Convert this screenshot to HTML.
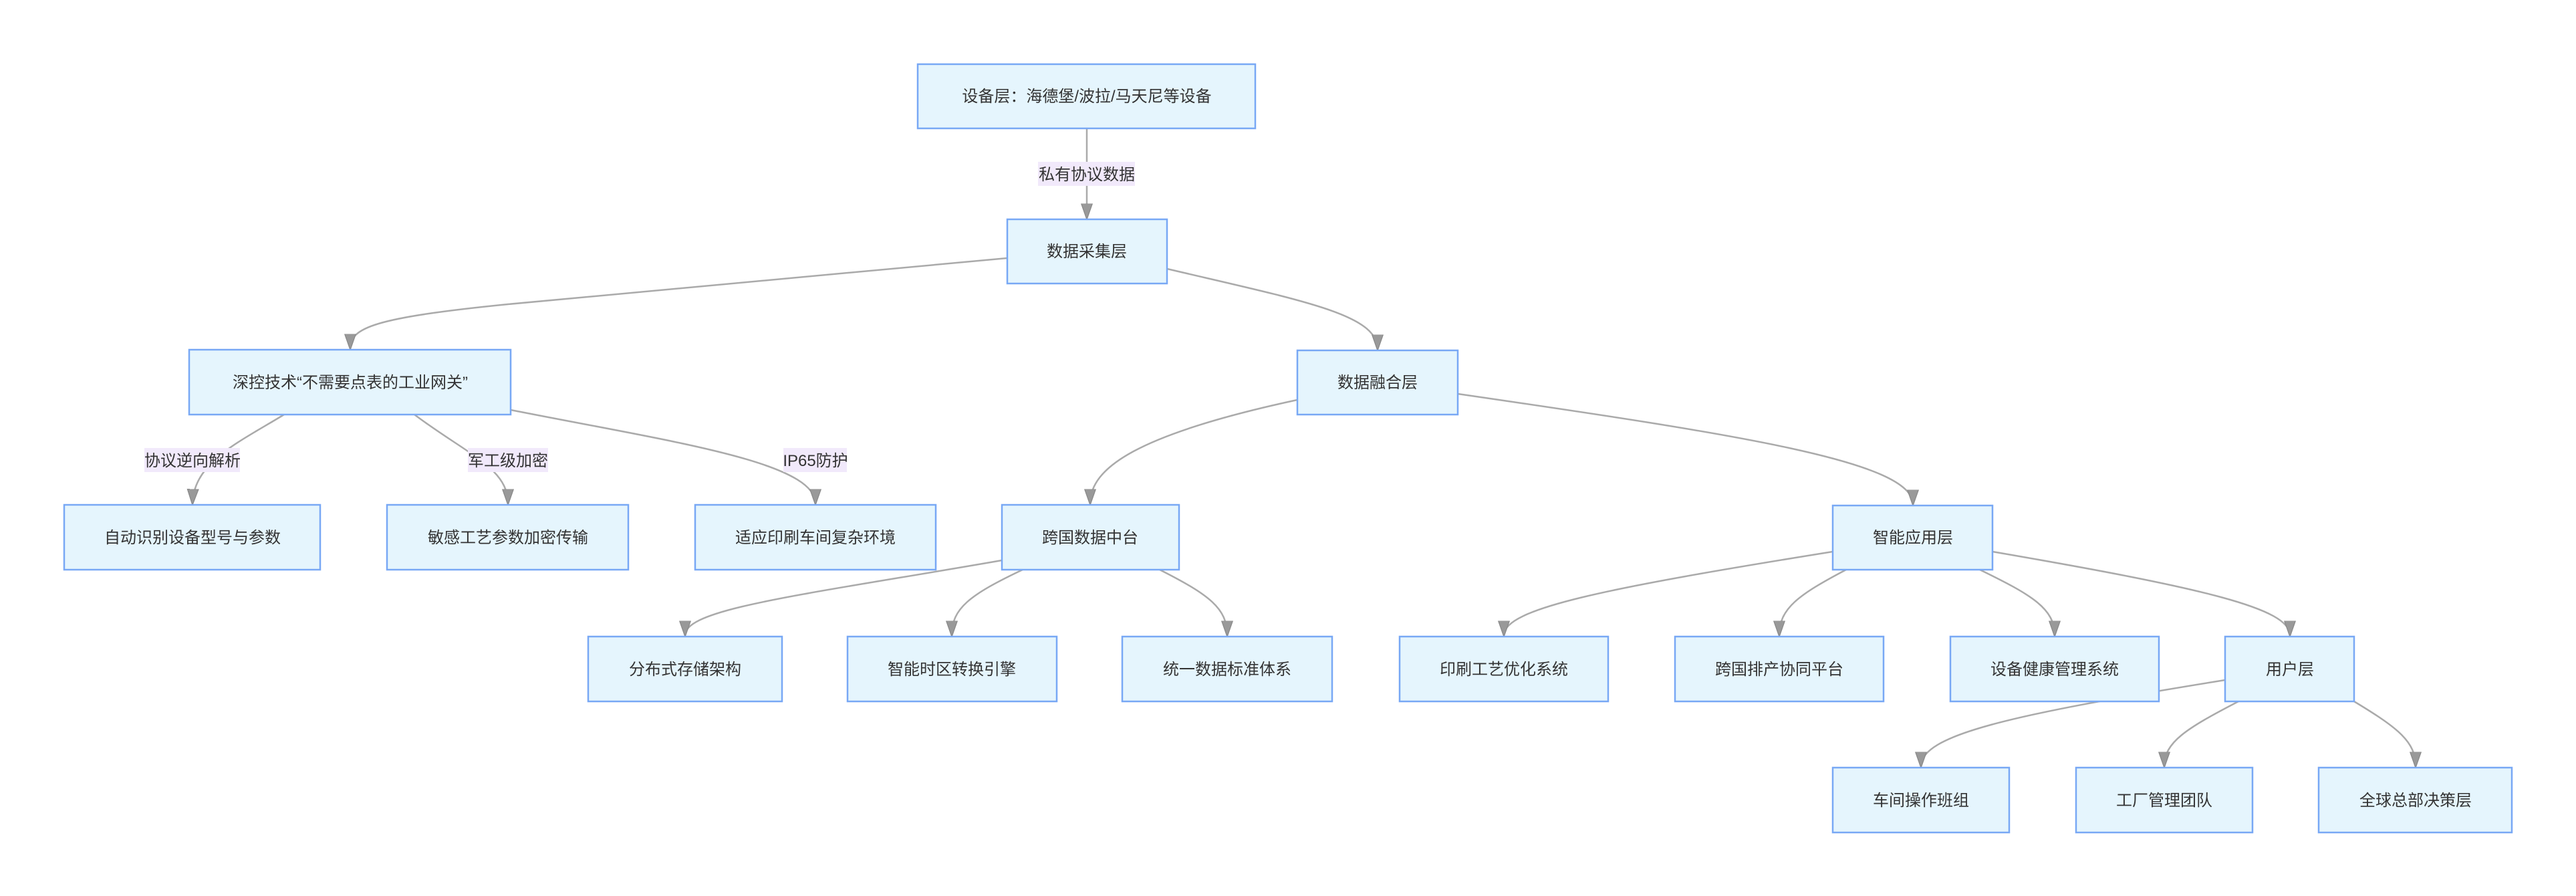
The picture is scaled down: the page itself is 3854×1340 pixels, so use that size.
<!DOCTYPE html>
<html><head><meta charset="utf-8"><style>
html,body{margin:0;padding:0;background:#fff;}
svg{display:block;}
text{font-family:"Liberation Sans","Noto Sans CJK SC",sans-serif;font-size:24px;fill:#333;}
.n{fill:#e5f5fd;stroke:#78a8f5;stroke-width:2.5;}
.e{fill:none;stroke:#aaaaaa;stroke-width:2.5;}
.l{fill:#f1e9fb;}
</style></head><body>
<svg width="3854" height="1340" viewBox="0 0 3854 1340" xmlns="http://www.w3.org/2000/svg">
<defs><marker id="a" viewBox="0 0 10 10" refX="9" refY="5" markerWidth="10" markerHeight="10" markerUnits="userSpaceOnUse" orient="auto"><path d="M0,0 L10,5 L0,10 z" fill="#999"/></marker>
<marker id="b" viewBox="0 0 10 10" refX="9" refY="5" markerWidth="24" markerHeight="24" markerUnits="userSpaceOnUse" orient="auto"><path d="M0,1.5 L10,5 L0,8.5 z" fill="#999" stroke="#888" stroke-width="0.5"/></marker></defs>
<g marker-end="url(#b)">
<path class="e" d="M1626,192 L1626,326"/>
<path class="e" d="M1507,386 L760,455 C560,475 524,490 524,521"/>
<path class="e" d="M1746,402 C1950,450 2061,470 2061,522"/>
<path class="e" d="M425,620 C360,660 290,690 288,753"/>
<path class="e" d="M620,620 C700,680 760,700 760,753"/>
<path class="e" d="M764,613 C1000,660 1220,690 1220,753"/>
<path class="e" d="M1941,598 C1700,650 1631,700 1631,753"/>
<path class="e" d="M2181,589 C2600,650 2862,690 2862,754"/>
<path class="e" d="M1499,838 C1200,890 1025,910 1025,950"/>
<path class="e" d="M1530,852 C1450,890 1424,910 1424,950"/>
<path class="e" d="M1735,852 C1810,890 1836,910 1836,950"/>
<path class="e" d="M2742,825 C2400,880 2250,910 2250,950"/>
<path class="e" d="M2762,852 C2690,890 2662,910 2662,950"/>
<path class="e" d="M2962,852 C3040,890 3074,910 3074,950"/>
<path class="e" d="M2981,825 C3300,880 3426,910 3426,950"/>
<path class="e" d="M3329,1017 C3000,1070 2874,1100 2874,1146"/>
<path class="e" d="M3349,1049 C3270,1090 3238,1110 3238,1146"/>
<path class="e" d="M3522,1049 C3590,1090 3614,1110 3614,1146"/>
</g>
<rect class="l" x="1553" y="242" width="145" height="36"/><text x="1626" y="269" text-anchor="middle">私有协议数据</text>
<rect class="l" x="216" y="670" width="143" height="36"/><text x="288" y="697" text-anchor="middle">协议逆向解析</text>
<rect class="l" x="700" y="670" width="120" height="36"/><text x="760" y="697" text-anchor="middle">军工级加密</text>
<rect class="l" x="1172" y="670" width="95" height="36"/><text x="1220" y="697" text-anchor="middle">IP65防护</text>
<g text-anchor="middle">
<rect class="n" x="1373" y="96" width="505" height="96"/><text x="1626" y="152">设备层：海德堡/波拉/马天尼等设备</text>
<rect class="n" x="1507" y="328" width="239" height="96"/><text x="1626" y="384">数据采集层</text>
<rect class="n" x="283" y="523" width="481" height="97"/><text x="524" y="580">深控技术“不需要点表的工业网关”</text>
<rect class="n" x="1941" y="524" width="240" height="96"/><text x="2061" y="580">数据融合层</text>
<rect class="n" x="96" y="755" width="383" height="97"/><text x="288" y="812">自动识别设备型号与参数</text>
<rect class="n" x="579" y="755" width="361" height="97"/><text x="760" y="812">敏感工艺参数加密传输</text>
<rect class="n" x="1040" y="755" width="360" height="97"/><text x="1220" y="812">适应印刷车间复杂环境</text>
<rect class="n" x="1499" y="755" width="265" height="97"/><text x="1631" y="812">跨国数据中台</text>
<rect class="n" x="2742" y="756" width="239" height="96"/><text x="2862" y="812">智能应用层</text>
<rect class="n" x="880" y="952" width="290" height="97"/><text x="1025" y="1009">分布式存储架构</text>
<rect class="n" x="1268" y="952" width="313" height="97"/><text x="1424" y="1009">智能时区转换引擎</text>
<rect class="n" x="1679" y="952" width="314" height="97"/><text x="1836" y="1009">统一数据标准体系</text>
<rect class="n" x="2094" y="952" width="312" height="97"/><text x="2250" y="1009">印刷工艺优化系统</text>
<rect class="n" x="2506" y="952" width="312" height="97"/><text x="2662" y="1009">跨国排产协同平台</text>
<rect class="n" x="2918" y="952" width="312" height="97"/><text x="3074" y="1009">设备健康管理系统</text>
<rect class="n" x="3329" y="952" width="193" height="97"/><text x="3426" y="1009">用户层</text>
<rect class="n" x="2742" y="1148" width="264" height="97"/><text x="2874" y="1205">车间操作班组</text>
<rect class="n" x="3106" y="1148" width="264" height="97"/><text x="3238" y="1205">工厂管理团队</text>
<rect class="n" x="3469" y="1148" width="289" height="97"/><text x="3614" y="1205">全球总部决策层</text>
</g>
</svg>
</body></html>
